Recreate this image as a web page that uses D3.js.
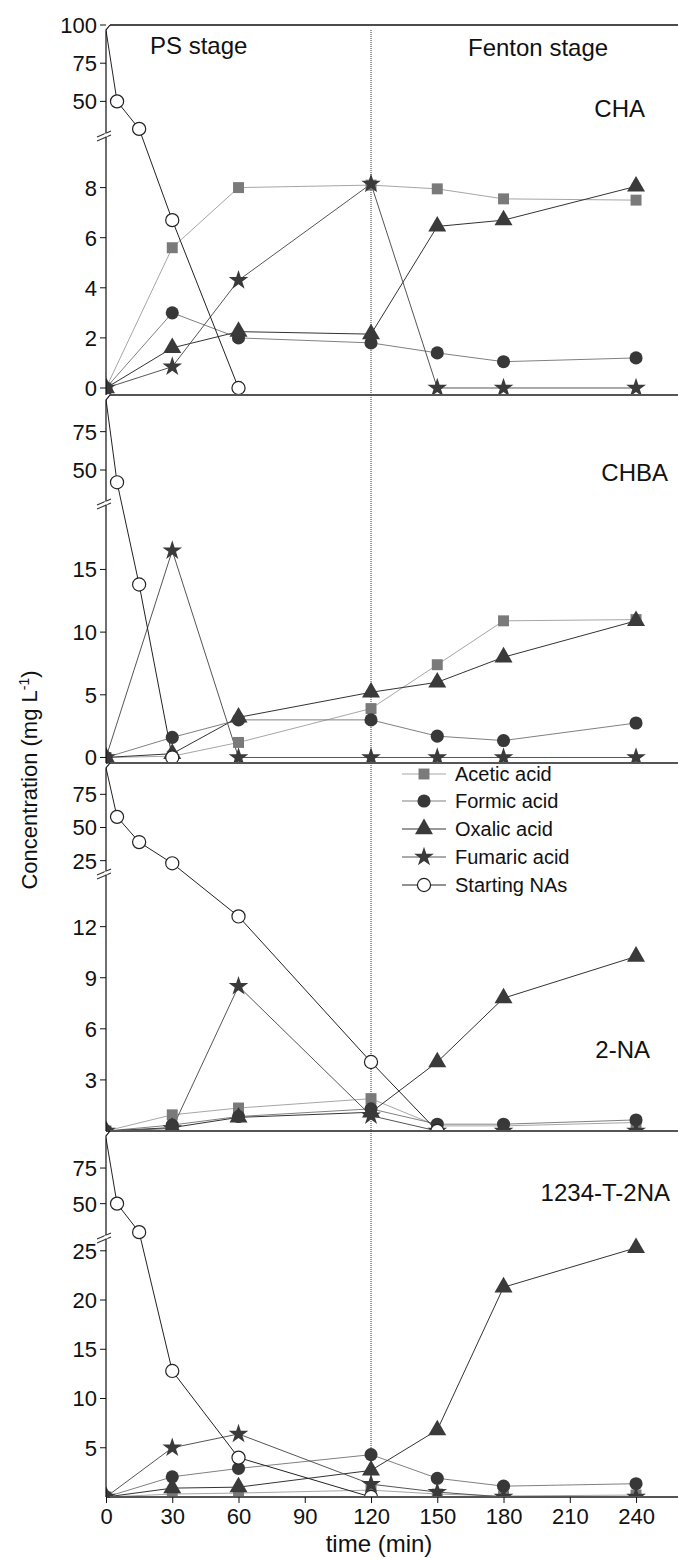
<!DOCTYPE html>
<html><head><meta charset="utf-8">
<script src="https://cdn.jsdelivr.net/npm/d3@7"></script>
<style>body{margin:0;background:#fff}svg{display:block}text{font-family:"Liberation Sans",Arial,sans-serif;fill:#111}</style>
</head><body><div id="c"></div>
<script>
// ---------- data ----------
const acidTimes = [0, 30, 60, 120, 150, 180, 240];
const xTicks = [0, 30, 60, 90, 120, 150, 180, 210, 240];
const seriesNames = ["Acetic acid", "Formic acid", "Oxalic acid", "Fumaric acid", "Starting NAs"];
const panelNames = ["CHA", "CHBA", "2-NA", "1234-T-2NA"];

// CHA
const chaAcetic  = [0, 5.6, 8.0, 8.1, 7.95, 7.55, 7.5];
const chaFormic  = [0, 3.0, 2.0, 1.8, 1.4, 1.05, 1.2];
const chaOxalic  = [0, 1.6, 2.25, 2.15, 6.45, 6.7, 8.05];
const chaFumaric = [0, 0.85, 4.3, 8.15, 0, 0, 0];
const chaNAsTimes = [0, 5, 15, 30, 60];
const chaNAs      = [96.5, 50, 32, 6.7, 0];
// CHBA
const chbaAcetic  = [0, 0.1, 1.2, 3.9, 7.4, 10.9, 11.0];
const chbaFormic  = [0, 1.6, 3.0, 3.0, 1.7, 1.35, 2.75];
const chbaOxalic  = [0, 0.3, 3.2, 5.2, 6.0, 8.0, 10.9];
const chbaFumaric = [0, 16.5, 0, 0, 0, 0, 0];
const chbaNAsTimes = [0, 5, 15, 30];
const chbaNAs      = [96, 42, 13.8, 0];
// 2-NA
const naAcetic  = [0, 0.95, 1.35, 1.9, 0.3, 0.3, 0.5];
const naFormic  = [0, 0.35, 0.85, 1.3, 0.4, 0.4, 0.65];
const naOxalic  = [0, 0.2, 0.8, 1.1, 4.05, 7.8, 10.25];
const naFumaric = [0, 0.15, 8.5, 0.9, 0, 0, 0];
const naNAsTimes = [0, 5, 15, 30, 60, 120, 150];
const naNAs      = [95, 58, 39, 23, 12.6, 4.05, 0];
// 1234-T-2NA
const tnaAcetic  = [0, 0.3, 0.4, 0.7, 0.3, 0.1, 0.2];
const tnaFormic  = [0, 2.05, 2.9, 4.3, 1.9, 1.1, 1.35];
const tnaOxalic  = [0, 0.9, 1.0, 2.7, 6.8, 21.3, 25.3];
const tnaFumaric = [0, 5.0, 6.4, 1.3, 0.5, 0, 0];
const tnaNAsTimes = [0, 5, 15, 30, 60, 120];
const tnaNAs      = [96, 50, 30, 12.8, 4.0, 0];

// y tick values (lower / upper segments)
const chaLowTicks = [0, 2, 4, 6, 8],   chaUpTicks = [50, 75, 100];
const chbaLowTicks = [0, 5, 10, 15],   chbaUpTicks = [50, 75];
const naLowTicks = [3, 6, 9, 12],      naUpTicks = [25, 50, 75];
const tnaLowTicks = [5, 10, 15, 20, 25], tnaUpTicks = [50, 75];

// ---------- layout ----------
const W = 678, H = 1558;
const xL = 106, xR = 678;
const panels = [
  {name: panelNames[0], top: 25,   bottom: 395,  brk: 135,  dom: [-0.28, 10.1, 28, 100],
   acids: [chaAcetic, chaFormic, chaOxalic, chaFumaric], nasT: chaNAsTimes, nas: chaNAs,
   low: chaLowTicks, up: chaUpTicks, label: [645, 117]},
  {name: panelNames[1], top: 395,  bottom: 763,  brk: 503,  dom: [-0.44, 20.3, 28.5, 98.9],
   acids: [chbaAcetic, chbaFormic, chbaOxalic, chbaFumaric], nasT: chbaNAsTimes, nas: chbaNAs,
   low: chbaLowTicks, up: chbaUpTicks, label: [668, 481]},
  {name: panelNames[2], top: 763,  bottom: 1131, brk: 873,  dom: [0, 15.15, 15.7, 98.6],
   acids: [naAcetic, naFormic, naOxalic, naFumaric], nasT: naNAsTimes, nas: naNAs,
   low: naLowTicks, up: naUpTicks, label: [650, 1058]},
  {name: panelNames[3], top: 1131, bottom: 1497, brk: 1237, dom: [0, 26.4, 26.6, 101],
   acids: [tnaAcetic, tnaFormic, tnaOxalic, tnaFumaric], nasT: tnaNAsTimes, nas: tnaNAs,
   low: tnaLowTicks, up: tnaUpTicks, label: [670, 1201]}
];

const styles = [
  {sym: d3.symbolSquare,   size: 120, fill: "#7a7a7a", stroke: "none", line: "#a6a6a6"},
  {sym: d3.symbolCircle,   size: 135, fill: "#383838", stroke: "none", line: "#808080"},
  {sym: d3.symbolTriangle, size: 140, fill: "#3a3a3a", stroke: "none", line: "#333333"},
  {sym: d3.symbolStar,     size: 120, fill: "#3a3a3a", stroke: "none", line: "#555555"},
  {sym: d3.symbolCircle,   size: 135, fill: "#ffffff", stroke: "#222", line: "#222222"}
];

const svg = d3.select("#c").append("svg").attr("width", W).attr("height", H);
svg.append("rect").attr("width", W).attr("height", H).attr("fill", "#fff");

const x = d3.scaleLinear().domain([0, 259]).range([xL, xR]);

panels.forEach((p, pi) => {
  const y = d3.scaleLinear().domain(p.dom).range([p.bottom, p.brk, p.brk, p.top]);
  const g = svg.append("g");
  const clipId = "clip" + pi;
  svg.append("clipPath").attr("id", clipId).append("rect")
    .attr("x", xL).attr("y", p.top - 1).attr("width", xR - xL).attr("height", p.bottom - p.top + 2);

  // stage divider
  g.append("line").attr("x1", x(120)).attr("x2", x(120)).attr("y1", p.top + (pi === 0 ? 5 : 0)).attr("y2", p.bottom)
    .attr("stroke", "#333").attr("stroke-width", 1).attr("stroke-dasharray", "1,1");

  const line = d3.line().x(d => x(d[0])).y(d => y(d[1]));
  const plot = g.append("g").attr("clip-path", `url(#${clipId})`);
  const allSeries = p.acids.map(v => acidTimes.map((t, i) => [t, v[i]]));
  allSeries.push(p.nasT.map((t, i) => [t, p.nas[i]]));

  allSeries.forEach((pts, si) => {
    plot.append("path").attr("d", line(pts)).attr("fill", "none")
      .attr("stroke", styles[si].line).attr("stroke-width", 1);
  });
  allSeries.forEach((pts, si) => {
    const st = styles[si];
    const sym = d3.symbol().type(st.sym).size(st.size);
    const mp = si === 4 ? pts.filter(d => d[0] > 0) : pts;
    plot.selectAll(null).data(mp).enter().append("path")
      .attr("d", sym).attr("transform", d => `translate(${x(d[0])},${y(d[1])})`)
      .attr("fill", st.fill).attr("stroke", st.stroke).attr("stroke-width", 1.2);
  });

  // bottom axis line
  g.append("line").attr("x1", xL + 4).attr("x2", xR).attr("y1", p.bottom).attr("y2", p.bottom)
    .attr("stroke", "#555").attr("stroke-width", 2);
  // y axis line with corner
  g.append("path").attr("d", `M${xL},${p.bottom}V${p.top + 5}L${xL + 4},${p.top}`)
    .attr("fill", "none").attr("stroke", "#111").attr("stroke-width", 1.2);
  if (pi === 0) {
    g.append("line").attr("x1", xL + 4).attr("x2", xR).attr("y1", p.top).attr("y2", p.top)
      .attr("stroke", "#111").attr("stroke-width", 1.5);
  }
  // break marks
  [[-2], [2]].forEach(o => {
    g.append("line").attr("x1", xL - 9).attr("y1", p.brk + 4 + o[0]).attr("x2", xL + 5).attr("y2", p.brk - 2 + o[0])
      .attr("stroke", "#333").attr("stroke-width", 1.1);
  });
  g.append("rect").attr("x", xL - 1.5).attr("y", p.brk - 1.5).attr("width", 3).attr("height", 3).attr("fill", "#fff");

  // y ticks
  const yAxG = g.append("g");
  p.low.concat(p.up).forEach(v => {
    yAxG.append("line").attr("x1", xL - 6).attr("x2", xL).attr("y1", y(v)).attr("y2", y(v))
      .attr("stroke", "#111").attr("stroke-width", 1);
    yAxG.append("text").attr("x", xL - 9).attr("y", y(v)).attr("dy", "0.36em")
      .attr("text-anchor", "end").attr("font-size", 22).text(v);
  });

  // panel label
  g.append("text").attr("x", p.label[0]).attr("y", p.label[1]).attr("text-anchor", "end")
    .attr("font-size", 24).text(p.name);
});

// stage labels
svg.append("text").attr("x", 150).attr("y", 54).attr("font-size", 24).text("PS stage");
svg.append("text").attr("x", 468).attr("y", 56).attr("font-size", 24).text("Fenton stage");

// x axis on last panel
const xAxis = d3.axisBottom(x).tickValues(xTicks).tickSize(6).tickSizeOuter(0).tickPadding(5);
const xg = svg.append("g").attr("transform", `translate(0,${panels[3].bottom})`).call(xAxis);
xg.select(".domain").remove();
xg.selectAll("line").attr("stroke", "#111");
xg.selectAll("text").attr("font-size", 22).attr("font-family", "Liberation Sans, Arial, sans-serif").attr("fill", "#111");

svg.append("text").attr("x", 379).attr("y", 1552).attr("text-anchor", "middle").attr("font-size", 24).text("time (min)");

const yl = svg.append("text").attr("transform", "translate(37,780) rotate(-90)").attr("text-anchor", "middle").attr("font-size", 22);
yl.append("tspan").text("Concentration (mg L");
yl.append("tspan").attr("baseline-shift", "super").attr("font-size", 14).text("-1");
yl.append("tspan").text(")");

// legend
const legY = [774, 801, 829, 857, 885];
const lg = svg.append("g");
seriesNames.forEach((n, i) => {
  const st = styles[i];
  lg.append("line").attr("x1", 402).attr("x2", 446).attr("y1", legY[i]).attr("y2", legY[i])
    .attr("stroke", st.line).attr("stroke-width", 1);
  lg.append("path").attr("d", d3.symbol().type(st.sym).size(st.size)).attr("transform", `translate(424,${legY[i]})`)
    .attr("fill", st.fill).attr("stroke", st.stroke).attr("stroke-width", 1.2);
  lg.append("text").attr("x", 455).attr("y", legY[i]).attr("dy", "0.36em").attr("font-size", 20).text(n);
});
</script></body></html>
